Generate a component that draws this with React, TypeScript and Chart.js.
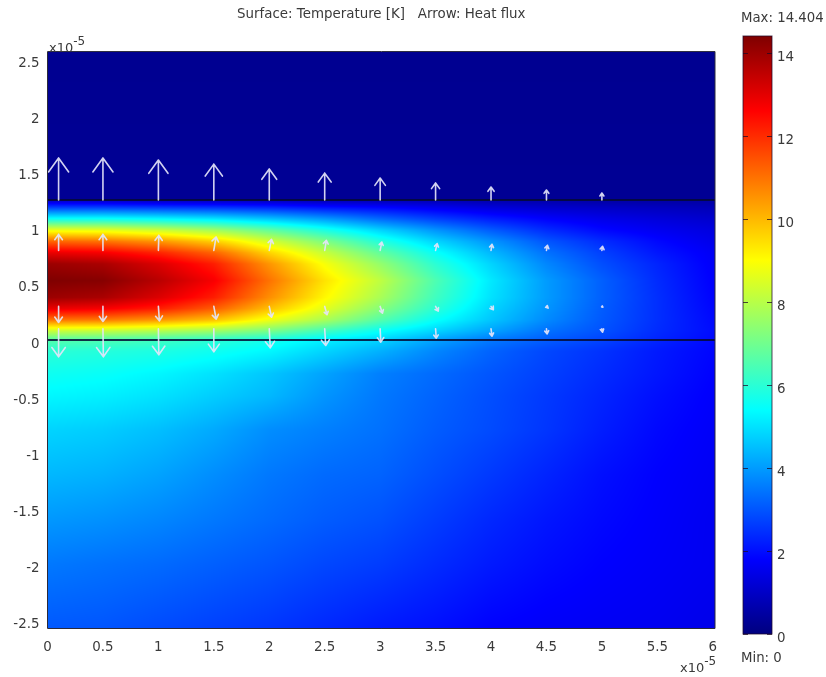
import React, { useEffect, useRef } from "react";
import { Chart, registerables } from "chart.js";

Chart.register(...registerables);

const titleText = "Surface: Temperature [K]   Arrow: Heat flux";
const xTicks = [0, 0.5, 1, 1.5, 2, 2.5, 3, 3.5, 4, 4.5, 5, 5.5, 6];
const yTicks = [-2.5, -2, -1.5, -1, -0.5, 0, 0.5, 1, 1.5, 2, 2.5];
const barTicks = [0, 2, 4, 6, 8, 10, 12, 14];
const tempMax = 14.404;
const tempMin = 0;
const interfaces = [0, 1.25];

const gridX = [0, 0.5, 1, 1.5, 2, 2.5, 3, 3.5, 4, 4.5, 5, 5.5, 6.02];
const gridY = [2.575, 1.252, 1.25, 1.18, 1.08, 0.98, 0.88, 0.78, 0.68, 0.53, 0.38, 0.28, 0.18, 0.08, 0, -0.1, -0.3, -0.5, -0.8, -1.2, -1.6, -2, -2.575];
const temperature = [
  [0.25, 0.25, 0.25, 0.25, 0.25, 0.25, 0.25, 0.25, 0.25, 0.25, 0.25, 0.25, 0.25],
  [0.3, 0.3, 0.3, 0.3, 0.3, 0.3, 0.3, 0.3, 0.3, 0.3, 0.3, 0.3, 0.3],
  [0.9, 0.9, 0.8, 0.8, 0.8, 0.7, 0.7, 0.7, 0.6, 0.6, 0.5, 0.5, 0.5],
  [2.8, 2.8, 2.7, 2.6, 2.4, 2.1, 1.9, 1.6, 1.3, 1.1, 1.0, 0.9, 0.8],
  [5.6, 5.6, 5.4, 5.1, 4.6, 4.0, 3.3, 2.7, 2.2, 1.8, 1.5, 1.3, 1.1],
  [8.8, 8.7, 8.3, 7.7, 6.8, 5.8, 4.8, 3.9, 3.1, 2.4, 1.9, 1.6, 1.35],
  [11.2, 11.0, 10.5, 9.7, 8.4, 7.2, 5.9, 4.8, 3.9, 3.0, 2.4, 1.9, 1.5],
  [12.9, 12.7, 12.1, 11.2, 9.6, 8.2, 6.8, 5.5, 4.4, 3.4, 2.7, 2.1, 1.65],
  [14.0, 13.8, 13.1, 12.2, 10.5, 8.9, 7.5, 6.0, 4.8, 3.7, 2.9, 2.3, 1.7],
  [14.4, 14.3, 13.6, 12.7, 11.0, 9.4, 8.1, 6.5, 5.1, 4.0, 3.15, 2.4, 1.75],
  [14.0, 13.8, 13.1, 12.2, 10.6, 9.1, 7.8, 6.3, 5.0, 4.0, 3.15, 2.45, 1.8],
  [12.9, 12.7, 12.2, 11.3, 9.9, 8.6, 7.3, 6.0, 4.8, 3.9, 3.1, 2.45, 1.85],
  [11.0, 10.9, 10.5, 9.9, 8.8, 7.8, 6.6, 5.5, 4.6, 3.75, 3.05, 2.45, 1.9],
  [8.2, 8.1, 7.9, 7.6, 7.1, 6.3, 5.5, 4.8, 4.1, 3.4, 2.95, 2.4, 1.95],
  [6.6, 6.5, 6.3, 6.0, 5.7, 5.2, 4.8, 4.1, 3.5, 3.1, 2.75, 2.3, 1.9],
  [6.0, 5.9, 5.8, 5.6, 5.3, 4.8, 4.3, 3.7, 3.2, 2.8, 2.5, 2.15, 1.85],
  [5.6, 5.5, 5.3, 5.0, 4.6, 4.1, 3.6, 3.3, 3.0, 2.7, 2.4, 2.1, 1.8],
  [5.3, 5.2, 5.0, 4.7, 4.4, 3.9, 3.5, 3.2, 2.9, 2.6, 2.3, 2.0, 1.75],
  [4.8, 4.7, 4.5, 4.2, 3.8, 3.6, 3.4, 3.1, 2.85, 2.55, 2.2, 1.9, 1.7],
  [4.4, 4.3, 4.1, 3.8, 3.5, 3.3, 3.2, 2.9, 2.6, 2.3, 2.0, 1.8, 1.65],
  [3.95, 3.85, 3.7, 3.5, 3.3, 3.1, 2.95, 2.65, 2.35, 2.1, 1.9, 1.75, 1.6],
  [3.5, 3.4, 3.3, 3.15, 3.0, 2.8, 2.65, 2.4, 2.15, 1.95, 1.8, 1.7, 1.6],
  [3.05, 3.0, 2.85, 2.7, 2.55, 2.35, 2.15, 2.0, 1.8, 1.7, 1.65, 1.6, 1.5],
];

const arrowX = [0.1, 0.5, 1, 1.5, 2, 2.5, 3, 3.5, 4, 4.5, 5];
const arrowBaseY = [1.25, 0.8, 0.3, 0.1];
const fluxU = [
  [0, 0, 0, 0, 0, 0, 0, 0, 0, 0, 0],
  [0, 0, 0.004, 0.02, 0.02, 0.015, 0.015, 0.015, 0.009, 0.009, 0.006],
  [0, 0, 0.009, 0.021, 0.021, 0.021, 0.021, 0.024, 0.021, 0.015, 0.009],
  [0, 0.004, 0.004, 0, 0.009, 0.009, 0.006, 0.006, 0.009, 0.006, 0.006],
];
const fluxV = [
  [0.375, 0.375, 0.357, 0.32, 0.277, 0.24, 0.196, 0.152, 0.116, 0.089, 0.0625],
  [0.143, 0.143, 0.134, 0.12, 0.098, 0.089, 0.074, 0.06, 0.054, 0.045, 0.036],
  [-0.143, -0.134, -0.129, -0.113, -0.096, -0.074, -0.06, -0.042, -0.03, -0.015, -0.006],
  [-0.25, -0.25, -0.232, -0.205, -0.17, -0.149, -0.119, -0.083, -0.065, -0.045, -0.03],
];

const jetStops: [number, number, number, number][] = [
  [0, 0, 0, 127],
  [0.125, 0, 0, 255],
  [0.375, 0, 255, 255],
  [0.625, 255, 255, 0],
  [0.875, 255, 0, 0],
  [1, 127, 0, 0],
];

function jet(t: number): [number, number, number] {
  const c = Math.max(0, Math.min(1, t));
  for (let i = 1; i < jetStops.length; i++) {
    const a = jetStops[i - 1];
    const b = jetStops[i];
    if (c <= b[0]) {
      const f = (c - a[0]) / (b[0] - a[0]);
      return [a[1] + f * (b[1] - a[1]), a[2] + f * (b[2] - a[2]), a[3] + f * (b[3] - a[3])];
    }
  }
  return [127, 0, 0];
}

function sampleField(x: number, y: number): number {
  let i = 0;
  while (i < gridX.length - 2 && x > gridX[i + 1]) i++;
  let j = 0;
  while (j < gridY.length - 2 && y < gridY[j + 1]) j++;
  const fx = Math.max(0, Math.min(1, (x - gridX[i]) / (gridX[i + 1] - gridX[i])));
  const fy = Math.max(0, Math.min(1, (y - gridY[j]) / (gridY[j + 1] - gridY[j])));
  const top = temperature[j][i] * (1 - fx) + temperature[j][i + 1] * fx;
  const bot = temperature[j + 1][i] * (1 - fx) + temperature[j + 1][i + 1] * fx;
  return top * (1 - fy) + bot * fy;
}

const heatPlugin = {
  id: "heatField",
  beforeDatasetsDraw(chart: any) {
    const { ctx, chartArea: a, scales } = chart;
    const left = Math.round(a.left);
    const top = Math.round(a.top);
    const w = Math.round(a.right) - left;
    const h = Math.round(a.bottom) - top;
    const img = ctx.createImageData(w, h);
    for (let py = 0; py < h; py++) {
      const vy = scales.y.getValueForPixel(top + py + 0.5);
      for (let px = 0; px < w; px++) {
        const vx = scales.x.getValueForPixel(left + px + 0.5);
        const c = jet((sampleField(vx, vy) - tempMin) / (tempMax - tempMin));
        const k = (py * w + px) * 4;
        img.data[k] = c[0];
        img.data[k + 1] = c[1];
        img.data[k + 2] = c[2];
        img.data[k + 3] = 255;
      }
    }
    ctx.putImageData(img, left, top);
  },
};

const arrowPlugin = {
  id: "arrows",
  afterDatasetsDraw(chart: any) {
    const { ctx, chartArea: a, scales } = chart;
    ctx.save();
    ctx.lineCap = "round";
    ctx.lineJoin = "round";
    ctx.lineWidth = 1.6;
    ctx.strokeStyle = "rgba(228,228,248,0.92)";
    arrowBaseY.forEach((by, r) => {
      arrowX.forEach((ax, i) => {
        const x0 = scales.x.getPixelForValue(ax);
        const y0 = scales.y.getPixelForValue(by);
        const x1 = scales.x.getPixelForValue(ax + fluxU[r][i]);
        const y1 = scales.y.getPixelForValue(by + fluxV[r][i]);
        const dx = x1 - x0;
        const dy = y1 - y0;
        const len = Math.hypot(dx, dy) || 1;
        const back = Math.max(len / 3, Math.min(len, 3));
        const wide = Math.max(len * 0.24, Math.min(len * 0.5, 2));
        const ux = dx / len;
        const uy = dy / len;
        ctx.beginPath();
        ctx.moveTo(x0, y0);
        ctx.lineTo(x1, y1);
        ctx.moveTo(x1 - ux * back - uy * wide, y1 - uy * back + ux * wide);
        ctx.lineTo(x1, y1);
        ctx.lineTo(x1 - ux * back + uy * wide, y1 - uy * back - ux * wide);
        ctx.stroke();
      });
    });
    ctx.lineCap = "butt";
    ctx.lineWidth = 1;
    ctx.strokeStyle = "#2a2a3a";
    ctx.strokeRect(a.left, a.top, a.right - a.left, a.bottom - a.top);
    ctx.fillStyle = "#3a3a3a";
    ctx.textBaseline = "alphabetic";
    ctx.textAlign = "left";
    const exponent = (x: number, y: number) => {
      ctx.font = "13px 'DejaVu Sans'";
      ctx.fillText("x10", x, y);
      const w = ctx.measureText("x10").width;
      ctx.font = "12px 'DejaVu Sans'";
      ctx.fillText("-5", x + w, y - 7);
    };
    exponent(49, 52);
    exponent(680, 672);
    ctx.restore();
  },
};

const barPlugin = {
  id: "barMarks",
  afterDatasetsDraw(chart: any) {
    const { ctx, chartArea: a, scales } = chart;
    ctx.save();
    ctx.lineWidth = 1;
    ctx.strokeStyle = "rgba(30,10,40,0.75)";
    ctx.strokeRect(a.left, a.top, a.right - a.left, a.bottom - a.top);
    barTicks.forEach((t) => {
      const y = Math.round(scales.y.getPixelForValue(t)) + 0.5;
      ctx.beginPath();
      ctx.moveTo(a.left, y);
      ctx.lineTo(a.left + 5, y);
      ctx.moveTo(a.right - 5, y);
      ctx.lineTo(a.right, y);
      ctx.stroke();
    });
    ctx.fillStyle = "#3a3a3a";
    ctx.font = "13.3px 'DejaVu Sans'";
    ctx.textAlign = "left";
    ctx.textBaseline = "middle";
    ctx.fillText(`Max: ${tempMax}`, a.left - 2, 19);
    ctx.fillText(`Min: ${tempMin}`, a.left - 2, 659);
    ctx.restore();
  },
};

export default function App() {
  const mainRef = useRef<HTMLCanvasElement>(null);
  const barRef = useRef<HTMLCanvasElement>(null);

  useEffect(() => {
    document.body.style.margin = "0";
    const tickFont = { family: "'DejaVu Sans'", size: 13.4 };
    const main = new Chart(mainRef.current as HTMLCanvasElement, {
      type: "scatter",
      data: {
        datasets: interfaces.map((y) => ({
          type: "line" as const,
          data: [
            { x: 0, y },
            { x: 6.02, y },
          ],
          borderColor: "rgba(5,10,50,0.85)",
          borderWidth: 2,
          pointRadius: 0,
        })),
      },
      options: {
        animation: false,
        responsive: false,
        layout: { padding: { left: 0, right: 111, top: 0, bottom: 0 } },
        plugins: {
          legend: { display: false },
          tooltip: { enabled: false },
          title: {
            display: true,
            text: titleText,
            fullSize: false,
            color: "#3a3a3a",
            font: { family: "'DejaVu Sans'", size: 13.4, weight: "normal", lineHeight: 1.1 },
            padding: { top: 7, bottom: 29.8 },
          },
        },
        scales: {
          x: {
            type: "linear",
            min: 0,
            max: 6.02,
            afterFit: (s: any) => {
              s.height = 48.5;
            },
            afterBuildTicks: (s: any) => {
              s.ticks = xTicks.map((value) => ({ value }));
            },
            grid: { display: false, drawTicks: false },
            border: { display: false },
            ticks: {
              color: "#3a3a3a",
              font: tickFont,
              padding: 11,
              maxRotation: 0,
              callback: (v: any) => String(v),
            },
          },
          y: {
            type: "linear",
            min: -2.575,
            max: 2.575,
            afterFit: (s: any) => {
              s.width = 47.5;
            },
            afterBuildTicks: (s: any) => {
              s.ticks = yTicks.map((value) => ({ value }));
            },
            grid: { display: false, drawTicks: false },
            border: { display: false },
            ticks: {
              color: "#3a3a3a",
              font: tickFont,
              padding: 8,
              labelOffset: 4,
              callback: (v: any) => String(v),
            },
          },
        },
      },
      plugins: [heatPlugin, arrowPlugin],
    } as any);

    const bar = new Chart(barRef.current as HTMLCanvasElement, {
      type: "bar",
      data: {
        labels: ["T"],
        datasets: [
          {
            data: [[tempMin, tempMax]],
            barPercentage: 1,
            categoryPercentage: 1,
            backgroundColor: (c: any) => {
              const area = c.chart.chartArea;
              if (!area) return "#000080";
              const g = c.chart.ctx.createLinearGradient(0, area.bottom, 0, area.top);
              jetStops.forEach((s) => g.addColorStop(s[0], `rgb(${s[1]},${s[2]},${s[3]})`));
              return g;
            },
          },
        ],
      },
      options: {
        animation: false,
        responsive: false,
        layout: { padding: { left: 13, right: 0, top: 36, bottom: 43 } },
        plugins: { legend: { display: false }, tooltip: { enabled: false } },
        scales: {
          x: { display: false },
          y: {
            position: "right",
            min: tempMin,
            max: tempMax,
            afterFit: (s: any) => {
              s.width = 54;
            },
            afterBuildTicks: (s: any) => {
              s.ticks = barTicks.map((value) => ({ value }));
            },
            grid: { display: false, drawTicks: false },
            border: { display: false },
            ticks: {
              color: "#3a3a3a",
              font: tickFont,
              padding: 5,
              labelOffset: 5,
              callback: (v: any) => String(v),
            },
          },
        },
      },
      plugins: [barPlugin],
    } as any);

    return () => {
      main.destroy();
      bar.destroy();
    };
  }, []);

  const soft = { position: "absolute" as const, top: 0, filter: "blur(0.35px)" };
  return (
    <div style={{ position: "relative", width: 826, height: 677, background: "#ffffff", overflow: "hidden" }}>
      <canvas ref={mainRef} width={826} height={677} style={{ ...soft, left: 0 }} />
      <canvas ref={barRef} width={96} height={677} style={{ ...soft, left: 730 }} />
    </div>
  );
}
